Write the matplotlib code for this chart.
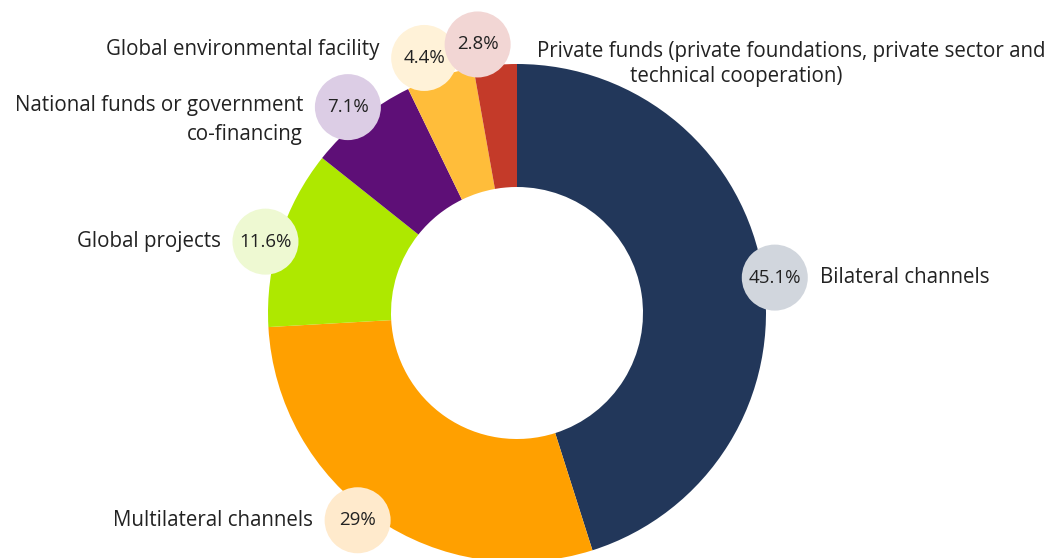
import matplotlib
matplotlib.use("Agg")
import matplotlib.pyplot as plt
from matplotlib.patches import Circle
import numpy as np

# data
categories = ["Bilateral channels", "Multilateral channels", "Global projects",
              "National funds or government\nco-financing", "Global environmental facility",
              "Private funds (private foundations, private sector and\ntechnical cooperation)"]
shares = [45.1, 29.0, 11.6, 7.1, 4.4, 2.8]
pct_labels = ["45.1%", "29%", "11.6%", "7.1%", "4.4%", "2.8%"]
colors = ["#22375a", "#ffa000", "#aee800", "#5e0f77", "#ffbd3a", "#c43a29"]
light = ["#d1d6dd", "#ffeacc", "#eef9d2", "#dccde5", "#fff2d8", "#f2d6d4"]

# layout (pixels)
W, H = 1056, 558
CX, CY, R = 517, H - 313, 249
HOLE = 126
BUB = 33
lab_r = [1.045, 1.05, 1.05, 1.07, 1.09, 1.09]
lab_nudge = [1.0, 3.0, -1.8, -0.7, -2.0, -3.3]   # degrees, clockwise
txt_dy = [0, 0, 0, -13, 8, 0]
side = ["r", "l", "l", "l", "l", "r"]

plt.rcParams["font.family"] = ["Open Sans", "DejaVu Sans"]
FS = 14.8
TXT = "#222222"

fig = plt.figure(figsize=(W / 100, H / 100), dpi=100)
ax = fig.add_axes([0, 0, 1, 1])

ax.pie(shares, colors=colors, startangle=90, counterclock=False, radius=R,
       center=(CX, CY), wedgeprops=dict(width=R - HOLE, linewidth=0),
       frame=True)
ax.set_xlim(0, W); ax.set_ylim(0, H)
ax.set_aspect("equal")
ax.axis("off")

cum = np.cumsum([0] + shares[:-1])
for i, (s, c0) in enumerate(zip(shares, cum)):
    cw = (c0 + s / 2) / sum(shares) * 360 + lab_nudge[i]
    a = np.deg2rad(90 - cw)
    bx = CX + lab_r[i] * R * np.cos(a)
    by = CY + lab_r[i] * R * np.sin(a)
    ax.add_patch(Circle((bx, by), BUB, color=light[i], zorder=3, linewidth=0))
    ax.text(bx, by, pct_labels[i], ha="center", va="center", fontsize=13.5,
            color=TXT, zorder=4)
    if i == 5:
        # first line starts at the bubble, second line sits centred further right
        l1, l2 = categories[i].split("\n")
        ax.text(bx + BUB + 26, by - 7, l1, ha="left", va="center", fontsize=FS, color=TXT)
        ax.text(bx + BUB + 226, by - 32, l2, ha="center", va="center", fontsize=FS, color=TXT)
        continue
    if side[i] == "r":
        ax.text(bx + BUB + 12, by + txt_dy[i], categories[i], ha="left", va="center",
                fontsize=FS, color=TXT, linespacing=1.5)
    else:
        ax.text(bx - BUB - 12, by + txt_dy[i], categories[i], ha="right", va="center",
                fontsize=FS, color=TXT, linespacing=1.5, multialignment="right")

fig.savefig("out.png", dpi=100)
